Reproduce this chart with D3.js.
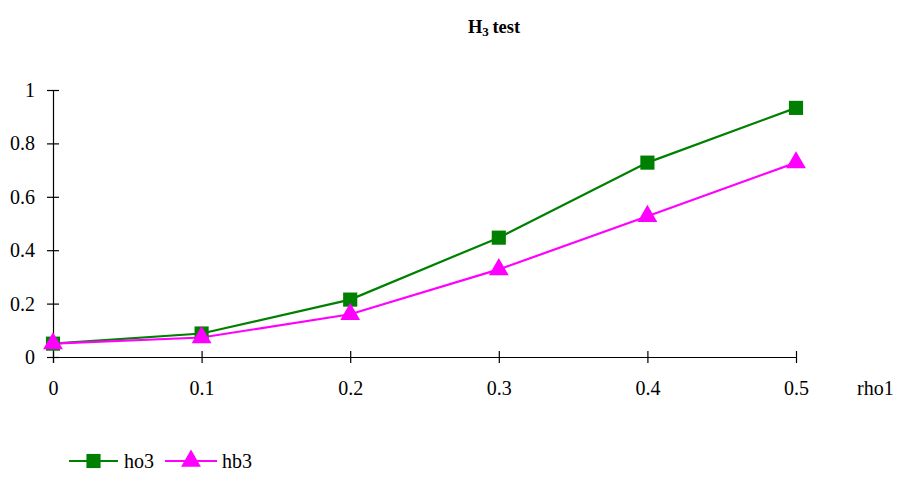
<!DOCTYPE html>
<html>
<head>
<meta charset="utf-8">
<script src="https://cdn.jsdelivr.net/npm/d3@7"></script>
<style>
  body { margin: 0; background: #fff; }
  svg text { font-family: 'Liberation Serif', 'Times New Roman', Times, 'DejaVu Serif', serif; }
</style>
</head>
<body>
<svg id="chart" width="899" height="487"></svg>
<script>
// rho1 values along the x axis
const rho = [0, 0.1, 0.2, 0.3, 0.4, 0.5];
// Rejection rates of the two tests
const ho3 = [0.05, 0.088, 0.215, 0.447, 0.728, 0.933];
const hb3 = [0.05, 0.073, 0.16, 0.328, 0.527, 0.728];
const xTicks = [0, 0.1, 0.2, 0.3, 0.4, 0.5];
const yTicks = [0, 0.2, 0.4, 0.6, 0.8, 1];
const seriesNames = ["ho3", "hb3"];

const svg = d3.select("#chart");
const x = d3.scaleLinear().domain([0, 0.5]).range([53, 796]);
const y = d3.scaleLinear().domain([0, 1]).range([357, 90]);

const fmt = d => String(d);

// Title with subscript
const title = svg.append("text")
  .attr("x", 494).attr("y", 33)
  .attr("text-anchor", "middle")
  .attr("font-weight", "bold")
  .attr("font-size", 18.5);
title.append("tspan").text("H");
title.append("tspan").attr("font-size", 13).attr("dy", 3).text("3");
title.append("tspan").attr("dy", -3).attr("dx", -1).text(" test");

// Y axis
const yAxis = svg.append("g")
  .attr("transform", `translate(${x(0)},0)`)
  .call(d3.axisLeft(y).tickValues(yTicks).tickFormat(fmt).tickSize(6).tickPadding(12));
// X axis
const xAxis = svg.append("g")
  .attr("transform", `translate(0,${y(0)})`)
  .call(d3.axisBottom(x).tickValues(xTicks).tickFormat(fmt).tickSize(6).tickPadding(18));

[yAxis, xAxis].forEach(g => {
  g.attr("font-family", null).attr("font-size", null);
  g.select(".domain").attr("stroke", "#000").attr("stroke-width", 1.2);
  g.selectAll(".tick line").attr("stroke", "#000").attr("stroke-width", 1.2);
  g.selectAll("text").attr("font-size", 20).attr("fill", "#000");
});
// ticks cross the axis line
yAxis.selectAll(".tick line").attr("x1", 6).attr("x2", -6);
xAxis.selectAll(".tick line").attr("y1", -6).attr("y2", 6);
xAxis.select(".domain").attr("d", `M${x(0) - 6},0.5H${x(0.5)}`);
yAxis.select(".domain").attr("d", `M0.5,${y(1)}V${y(0) + 6}`);

// Axis label
svg.append("text")
  .attr("x", 857).attr("y", 395)
  .attr("font-size", 20)
  .text("rho1");

const line = d3.line().x((d, i) => x(rho[i])).y(d => y(d));

const green = "#008000", magenta = "#ff00ff";
const squareSym = d3.symbol().type(d3.symbolSquare).size(200);
const triSym = d3.symbol().type(d3.symbolTriangle).size(170);

// ho3 series
svg.append("path").datum(ho3).attr("d", line)
  .attr("fill", "none").attr("stroke", green).attr("stroke-width", 2.2);
// hb3 series
svg.append("path").datum(hb3).attr("d", line)
  .attr("fill", "none").attr("stroke", magenta).attr("stroke-width", 2.2);

svg.append("g").selectAll("path").data(ho3).join("path")
  .attr("d", squareSym)
  .attr("transform", (d, i) => `translate(${x(rho[i])},${y(d)})`)
  .attr("fill", green);
svg.append("g").selectAll("path").data(hb3).join("path")
  .attr("d", triSym)
  .attr("transform", (d, i) => `translate(${x(rho[i])},${y(d)})`)
  .attr("fill", magenta);

// Legend
const legend = svg.append("g").attr("transform", "translate(0,461)");
const legendItems = [
  { name: seriesNames[0], color: green, sym: squareSym, x0: 69, x1: 118, tx: 124 },
  { name: seriesNames[1], color: magenta, sym: triSym, x0: 165, x1: 217, tx: 222 }
];
legendItems.forEach(it => {
  legend.append("line")
    .attr("x1", it.x0).attr("x2", it.x1).attr("y1", 0).attr("y2", 0)
    .attr("stroke", it.color).attr("stroke-width", 2.2);
  legend.append("path").attr("d", it.sym)
    .attr("transform", `translate(${(it.x0 + it.x1) / 2},0)`)
    .attr("fill", it.color);
  legend.append("text")
    .attr("x", it.tx).attr("y", 7)
    .attr("font-size", 20)
    .text(it.name);
});
</script>
</body>
</html>
